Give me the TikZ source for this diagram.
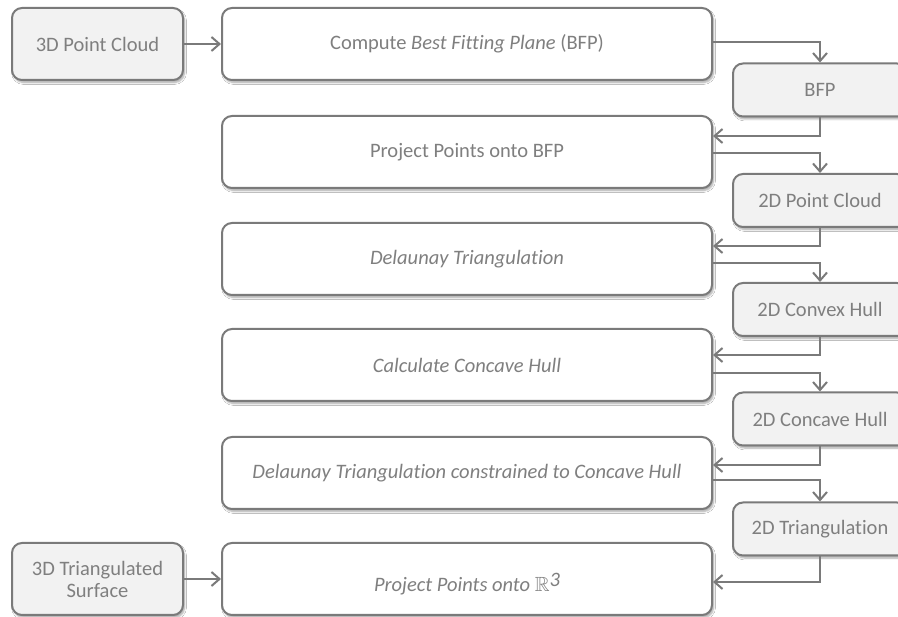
\documentclass[tikz,border=0pt]{standalone}
\usepackage{amssymb}
\usepackage{fontspec}
\setmainfont{Carlito}[Ligatures={NoCommon}]
\usetikzlibrary{arrows.meta,shadows.blur}
\definecolor{tgray}{HTML}{7F7F7F}
\definecolor{lgray}{HTML}{7A7A7A}
\definecolor{boxfill}{HTML}{F2F2F2}
\begin{document}
\begin{tikzpicture}[x=1pt,y=-1pt,
  base/.style={draw=lgray, line width=2pt, rounded corners=10pt, text=tgray,
    font=\fontsize{20.5}{22}\selectfont, align=center, inner sep=0pt,
    blur shadow={shadow xshift=1.5pt, shadow yshift=-2.5pt, shadow blur steps=6, shadow opacity=35}},
  mainbox/.style={base, fill=white, minimum width=490pt, minimum height=72pt},
  leftbox/.style={base, fill=boxfill, minimum width=171pt, minimum height=72pt},
  rightbox/.style={base, fill=boxfill, minimum width=174pt, minimum height=53pt},
  arr/.style={draw=lgray, line width=2pt, -{Straight Barb[length=8pt,width=14pt]}}
]
\clip (0,0) rectangle (898,617);
\fill[white] (0,0) rectangle (898,617);

\node[leftbox] (l1) at (97.5,44) {3D Point Cloud};
\node[leftbox] (l2) at (97.5,579) {3D Triangulated\\Surface};

\node[mainbox] (m1) at (467,44) {Compute \textit{Best Fitting Plane} (BFP)};
\node[mainbox] (m2) at (467,152) {Project Points onto BFP};
\node[mainbox] (m3) at (467,259) {\textit{Delaunay Triangulation}};
\node[mainbox] (m4) at (467,365) {\textit{Calculate Concave Hull}};
\node[mainbox] (m5) at (467,473) {\textit{Delaunay Triangulation constrained to Concave Hull}};
\node[mainbox, text height=25pt, text depth=0pt] (m6) at (467,579) {\textit{Project Points onto} $\mathbb{R}$\raisebox{0.55ex}{\textit{3}}};

\node[rightbox] (r1) at (820,90) {BFP};
\node[rightbox] (r2) at (820,200.5) {2D Point Cloud};
\node[rightbox] (r3) at (820,309.5) {2D Convex Hull};
\node[rightbox] (r4) at (820,419) {2D Concave Hull};
\node[rightbox] (r5) at (820,529) {2D Triangulation};

\draw[arr] (l1) -- (m1);
\draw[arr] (l2) -- (m6);

\draw[arr] (m1.east |- 0,42) -| (r1.north);
\draw[arr] (r1.south) |- (m2.east |- 0,136);
\draw[arr] (m2.east |- 0,153) -| (r2.north);
\draw[arr] (r2.south) |- (m3.east |- 0,246);
\draw[arr] (m3.east |- 0,263) -| (r3.north);
\draw[arr] (r3.south) |- (m4.east |- 0,355);
\draw[arr] (m4.east |- 0,373) -| (r4.north);
\draw[arr] (r4.south) |- (m5.east |- 0,465);
\draw[arr] (m5.east |- 0,480) -| (r5.north);
\draw[arr] (r5.south) |- (m6.east |- 0,582);
\end{tikzpicture}
\end{document}
